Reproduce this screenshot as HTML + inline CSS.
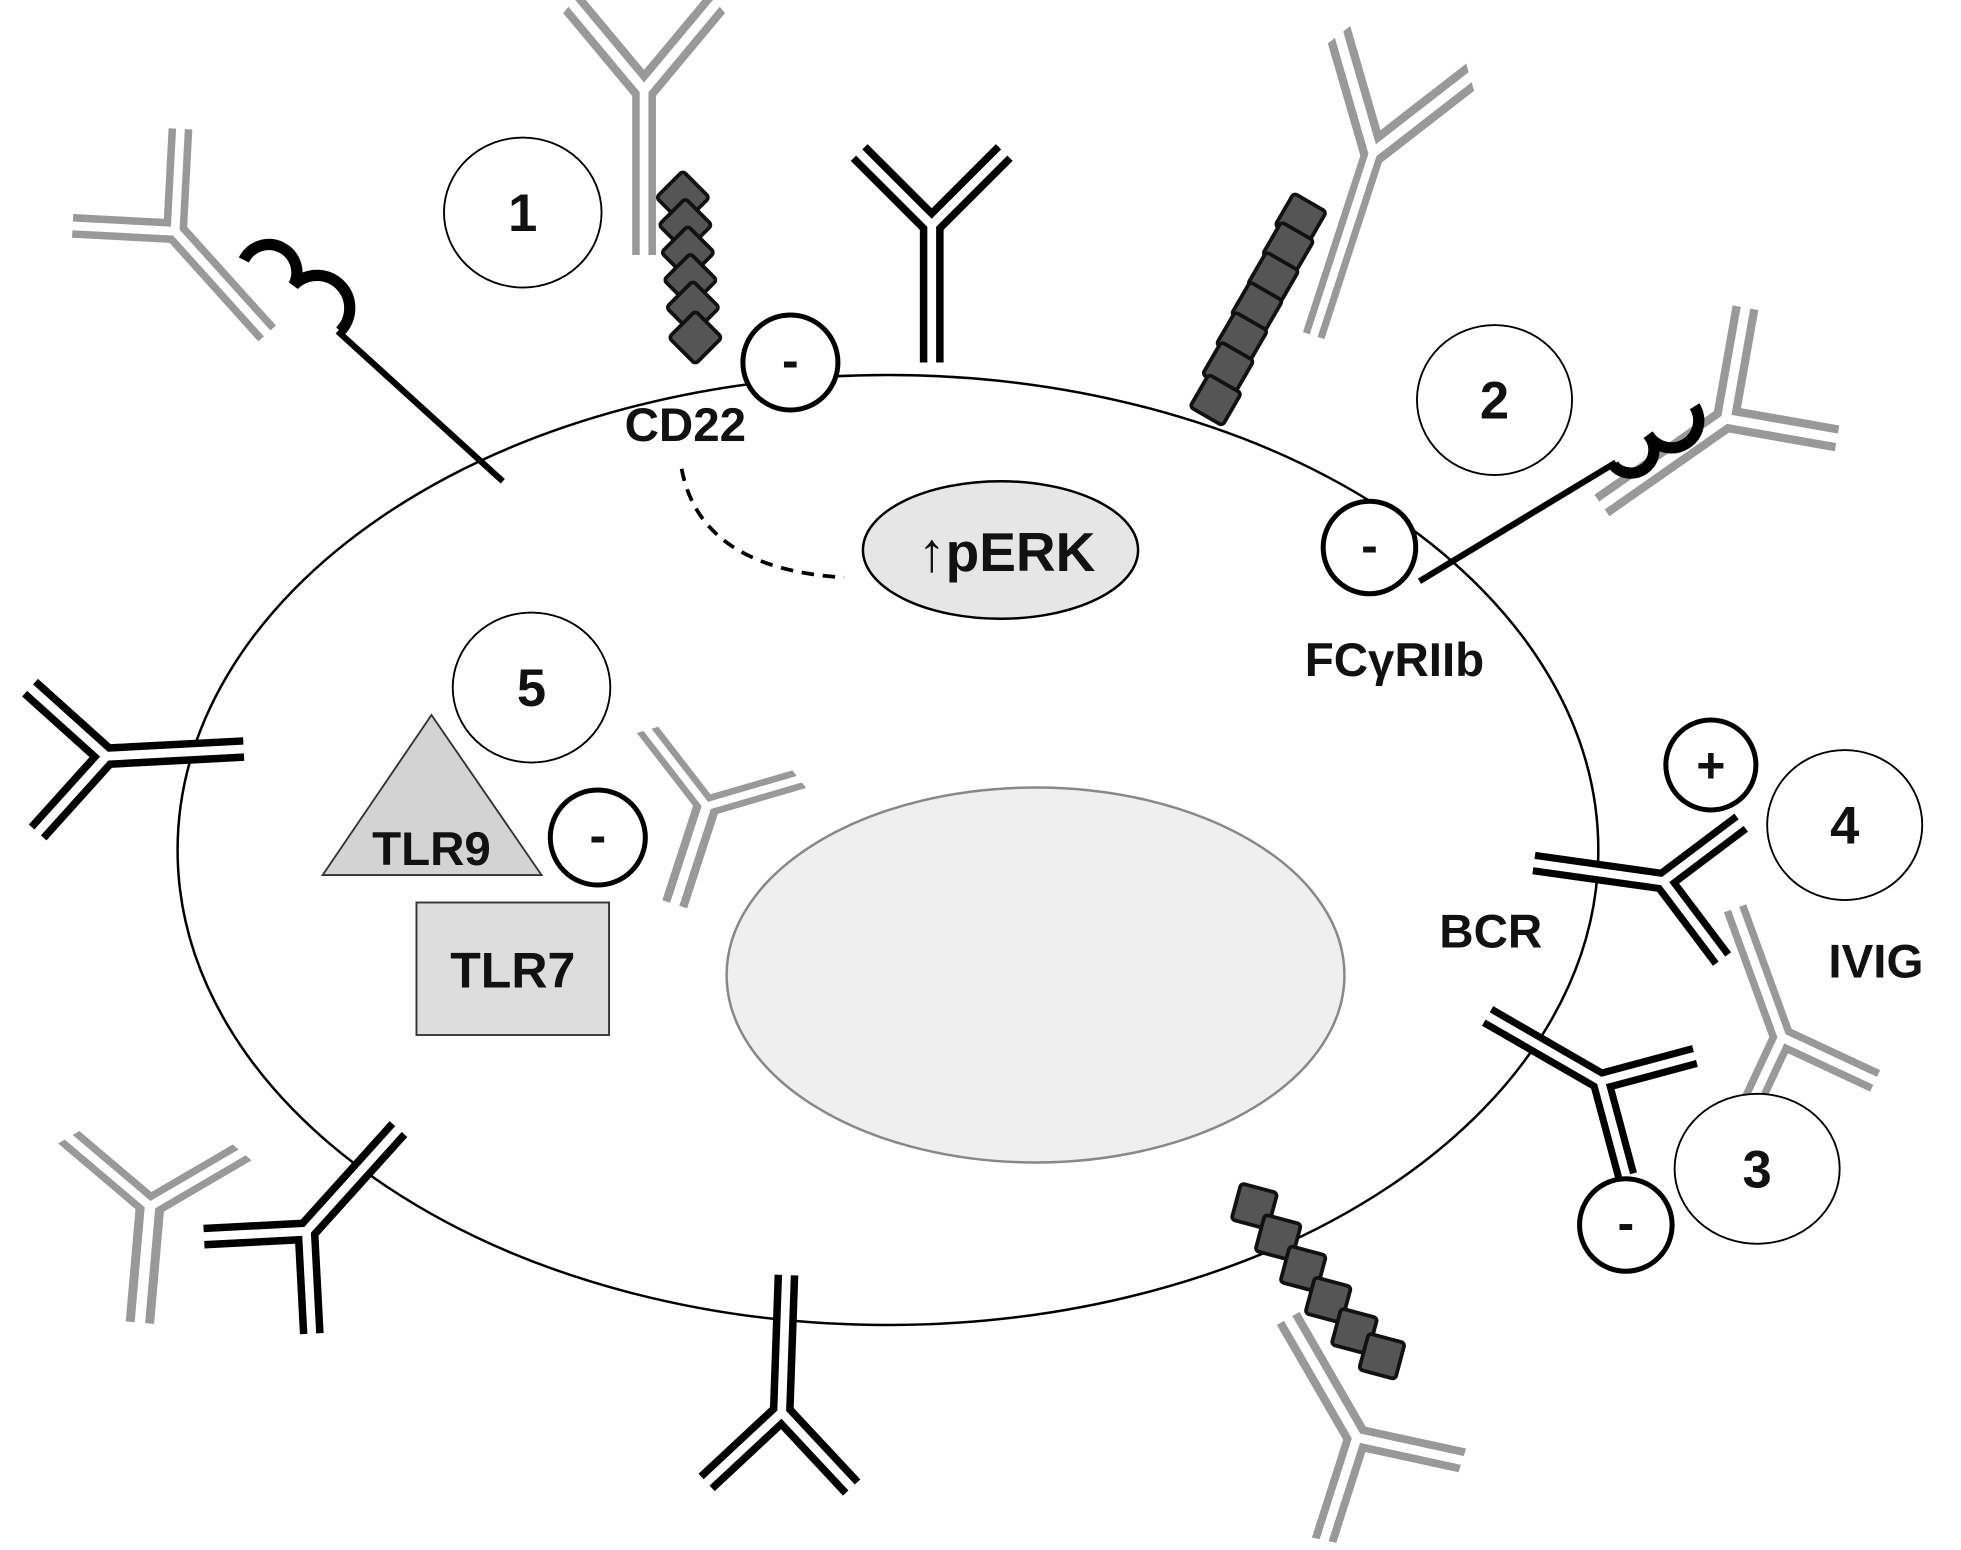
<!DOCTYPE html>
<html><head><meta charset="utf-8"><style>
html,body{margin:0;padding:0;background:#fff;}
svg{display:block;}
text{font-family:"Liberation Sans",sans-serif;font-weight:bold;fill:#111;}
</style></head><body>
<svg width="1961" height="1550" viewBox="0 0 1568 1240" preserveAspectRatio="none" xmlns="http://www.w3.org/2000/svg">
<defs>
  <g id="ab">
    <g stroke-width="19" stroke-linecap="butt" fill="none">
      <line x1="0" y1="0" x2="0" y2="110"/>
      <line x1="0" y1="0" x2="-58" y2="-58"/>
      <line x1="0" y1="0" x2="58" y2="-58"/>
    </g>
    <g stroke="#fff" stroke-width="7" fill="none">
      <line x1="0" y1="-2" x2="0" y2="112"/>
      <line x1="0" y1="0" x2="-60" y2="-60"/>
      <line x1="0" y1="0" x2="60" y2="-60"/>
    </g>
  </g>
  <g id="chain">
    <rect x="-15" y="-15" width="30" height="30" rx="3" fill="#555" stroke="#111" stroke-width="3"/>
  </g>
</defs>

<ellipse cx="710" cy="680" rx="568" ry="380" fill="none" stroke="#000" stroke-width="2"/>
<ellipse cx="828" cy="780" rx="247" ry="150" fill="#efefef" stroke="#888" stroke-width="2"/>

<g stroke="#000">
  <use href="#ab" transform="translate(745,180)"/>
  <use href="#ab" transform="translate(85,605) rotate(-93)"/>
  <use href="#ab" transform="translate(625,1130) rotate(182)"/>
  <use href="#ab" transform="translate(245,985) rotate(222)"/>
  <use href="#ab" transform="translate(1330,705) rotate(98) scale(0.95)"/>
  <use href="#ab" transform="translate(1280,865) rotate(120) scale(0.95)"/>
</g>
<g stroke="#999">
  <use href="#ab" transform="translate(515,72) scale(1,1.2)"/>
  <use href="#ab" transform="translate(140,185) rotate(-42)"/>
  <use href="#ab" transform="translate(1098,122) rotate(18) scale(0.95,1.4)"/>
  <use href="#ab" transform="translate(1380,335) rotate(55) scale(1.1)"/>
  <use href="#ab" transform="translate(565,645) rotate(18) scale(1.1,0.75)"/>
  <use href="#ab" transform="translate(1425,830) rotate(160)"/>
  <use href="#ab" transform="translate(120,965) rotate(5) scale(1.2,0.85)"/>
  <use href="#ab" transform="translate(1085,1150) rotate(150) scale(1.1,1)"/>
</g>

<g>
  <use href="#chain" transform="translate(546,158) rotate(45)"/>
  <use href="#chain" transform="translate(548,180) rotate(45)"/>
  <use href="#chain" transform="translate(550,202) rotate(45)"/>
  <use href="#chain" transform="translate(552,224) rotate(45)"/>
  <use href="#chain" transform="translate(554,246) rotate(45)"/>
  <use href="#chain" transform="translate(556,270) rotate(45)"/>
  <use href="#chain" transform="translate(1040,175) rotate(30)"/>
  <use href="#chain" transform="translate(1030,198) rotate(30)"/>
  <use href="#chain" transform="translate(1018,222) rotate(30)"/>
  <use href="#chain" transform="translate(1005,246) rotate(30)"/>
  <use href="#chain" transform="translate(993,270) rotate(30)"/>
  <use href="#chain" transform="translate(982,294) rotate(30)"/>
  <use href="#chain" transform="translate(972,320) rotate(30)"/>
  <use href="#chain" transform="translate(1003,965) rotate(15)"/>
  <use href="#chain" transform="translate(1022,990) rotate(15)"/>
  <use href="#chain" transform="translate(1042,1015) rotate(15)"/>
  <use href="#chain" transform="translate(1062,1040) rotate(15)"/>
  <use href="#chain" transform="translate(1083,1065) rotate(15)"/>
  <use href="#chain" transform="translate(1105,1085) rotate(15)"/>
</g>

<g stroke="#000" fill="none" stroke-width="5">
  <line x1="270" y1="265" x2="402" y2="385"/>
  <path d="M195,208 A22,22 0 1 1 235,228 A20,20 0 1 1 272,265" stroke-width="9"/>
  <line x1="1135" y1="465" x2="1292" y2="370"/>
  <path d="M1290,372 A18,18 0 1 0 1318,348 A20,20 0 1 0 1355,325" stroke-width="9"/>
</g>

<g fill="#fff" stroke="#000" stroke-width="1.5">
  <ellipse cx="418" cy="170" rx="63" ry="60"/>
  <ellipse cx="1195" cy="320" rx="62" ry="60"/>
  <ellipse cx="1405" cy="935" rx="66" ry="60"/>
  <ellipse cx="1475" cy="660" rx="62" ry="60"/>
  <ellipse cx="425" cy="550" rx="63" ry="60"/>
</g>
<g font-size="42" text-anchor="middle">
  <text x="418" y="185">1</text>
  <text x="1195" y="335">2</text>
  <text x="1405" y="950">3</text>
  <text x="1475" y="675">4</text>
  <text x="425" y="565">5</text>
</g>

<g fill="#fff" stroke="#000" stroke-width="4">
  <circle cx="632" cy="290" r="38"/>
  <circle cx="1095" cy="438" r="37"/>
  <circle cx="478" cy="670" r="38"/>
  <circle cx="1300" cy="980" r="37"/>
  <circle cx="1368" cy="612" r="36"/>
</g>
<g font-size="40" text-anchor="middle">
  <text x="632" y="302">-</text>
  <text x="1095" y="450">-</text>
  <text x="478" y="682">-</text>
  <text x="1300" y="992">-</text>
  <text x="1368" y="626">+</text>
</g>

<path d="M545,375 Q560,455 675,462" fill="none" stroke="#000" stroke-width="3" stroke-dasharray="10,7"/>
<ellipse cx="800" cy="440" rx="110" ry="55" fill="#e6e6e6" stroke="#000" stroke-width="2"/>
<text x="805" y="457" font-size="44" text-anchor="middle">↑pERK</text>

<polygon points="258,700 345,572 433,700" fill="#d3d3d3" stroke="#333" stroke-width="1.5"/>
<text x="345" y="692" font-size="38" text-anchor="middle">TLR9</text>
<rect x="333" y="722" width="154" height="106" fill="#ddd" stroke="#333" stroke-width="1.5"/>
<text x="410" y="790" font-size="40" text-anchor="middle">TLR7</text>

<text x="548" y="353" font-size="38" text-anchor="middle">CD22</text>
<text x="1115" y="541" font-size="38" text-anchor="middle">FCγRIIb</text>
<text x="1192" y="758" font-size="38" text-anchor="middle">BCR</text>
<text x="1500" y="782" font-size="38" text-anchor="middle">IVIG</text>
</svg>
</body></html>
